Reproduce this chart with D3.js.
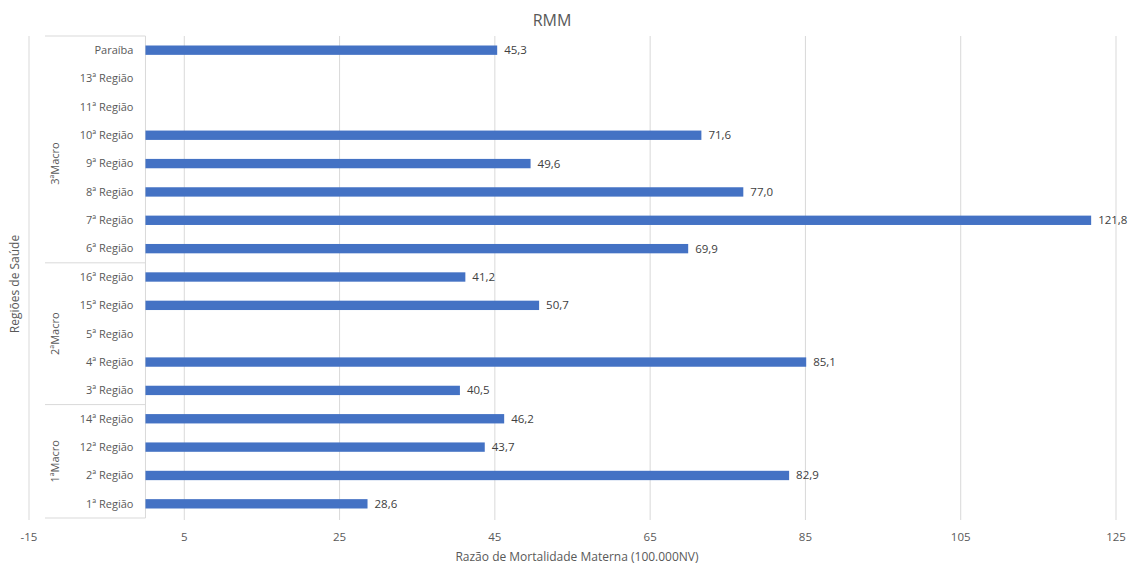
<!DOCTYPE html>
<html><head><meta charset="utf-8">
<script src="https://cdn.jsdelivr.net/npm/d3@7"></script>
<style>body{margin:0;background:#fff}svg{display:block;font-family:"Open Sans",sans-serif}</style>
</head><body><svg id="c" width="1134" height="566"></svg>
<script>
const categories = ["Paraíba","13ª Região","11ª Região","10ª Região","9ª Região","8ª Região","7ª Região","6ª Região","16ª Região","15ª Região","5ª Região","4ª Região","3ª Região","14ª Região","12ª Região","2ª Região","1ª Região"];
const values = [45.3,null,null,71.6,49.6,77.0,121.8,69.9,41.2,50.7,null,85.1,40.5,46.2,43.7,82.9,28.6];
const groups = [
  {name:"3ªMacro", first:"13ª Região", last:"6ª Região"},
  {name:"2ªMacro", first:"16ª Região", last:"3ª Região"},
  {name:"1ªMacro", first:"14ª Região", last:"1ª Região"}
];
const xTicks = [-15,5,25,45,65,85,105,125];
const title = "RMM";
const xTitle = "Razão de Mortalidade Materna (100.000NV)";
const yTitle = "Regiões de Saúde";

const svg = d3.select("#c");
const x = d3.scaleLinear().domain([-15,125]).range([29,1116]);
const y = d3.scaleBand().domain(categories).range([36,518]).paddingInner(0.67).paddingOuter(0.335);
const step = y.step();
const grid = "#d9d9d9", txt = "#595959";

// gridlines
svg.append("g").selectAll("line").data(xTicks).join("line")
  .attr("x1",d=>x(d)).attr("x2",d=>x(d)).attr("y1",36).attr("y2",520)
  .attr("stroke",grid).attr("stroke-width",1);

// label box
const x0 = x(0), boxL = 45;
const lb = svg.append("g").attr("stroke",grid).attr("stroke-width",1);
lb.append("line").attr("x1",x0).attr("x2",x0).attr("y1",36).attr("y2",518);
const bounds = [36];
groups.forEach(g=>{ bounds.push(y(g.last)+y.bandwidth()+step*y.paddingInner()/2); });
bounds[bounds.length-1] = 518;
lb.selectAll("line.h").data(bounds).join("line").attr("class","h")
  .attr("x1",boxL).attr("x2",x0).attr("y1",d=>d).attr("y2",d=>d);

// category labels
svg.append("g").selectAll("text").data(categories).join("text")
  .attr("x",x0-12).attr("y",d=>y(d)+y.bandwidth()/2).attr("dy","0.35em")
  .attr("text-anchor","end").attr("font-size",11).attr("fill",txt).text(d=>d);

// group labels
groups.forEach(g=>{
  const top = y(g.first)-step*y.paddingInner()/2, bot = y(g.last)+y.bandwidth()+step*y.paddingInner()/2;
  const cy=(top+bot)/2;
  svg.append("text").attr("transform",`translate(59,${cy}) rotate(-90)`)
    .attr("text-anchor","middle").attr("font-size",11).attr("fill",txt).text(g.name);
});

// bars
const data = categories.map((c,i)=>({c,v:values[i]})).filter(d=>d.v!=null);
svg.append("g").selectAll("rect").data(data).join("rect")
  .attr("x",x(0)).attr("y",d=>y(d.c)).attr("width",d=>x(d.v)-x(0)).attr("height",y.bandwidth())
  .attr("fill","#4472c4");
svg.append("g").selectAll("text").data(data).join("text")
  .attr("x",d=>x(d.v)+7).attr("y",d=>y(d.c)+y.bandwidth()/2).attr("dy","0.35em")
  .attr("font-size",11.5).attr("fill","#404040").text(d=>d3.format(".1f")(d.v).replace(".",","));

// x axis tick labels
svg.append("g").selectAll("text").data(xTicks).join("text")
  .attr("x",d=>x(d)).attr("y",537).attr("dy","0.35em").attr("text-anchor","middle")
  .attr("font-size",11.5).attr("fill",txt).text(d=>d);

// titles
svg.append("text").attr("x",552).attr("y",26).attr("text-anchor","middle").attr("font-size",16).attr("fill",txt).text(title);
svg.append("text").attr("x",577).attr("y",561).attr("text-anchor","middle").attr("font-size",12).attr("fill",txt).text(xTitle);
svg.append("text").attr("transform","translate(19,284) rotate(-90)").attr("text-anchor","middle").attr("font-size",12).attr("fill",txt).text(yTitle);
</script></body></html>
